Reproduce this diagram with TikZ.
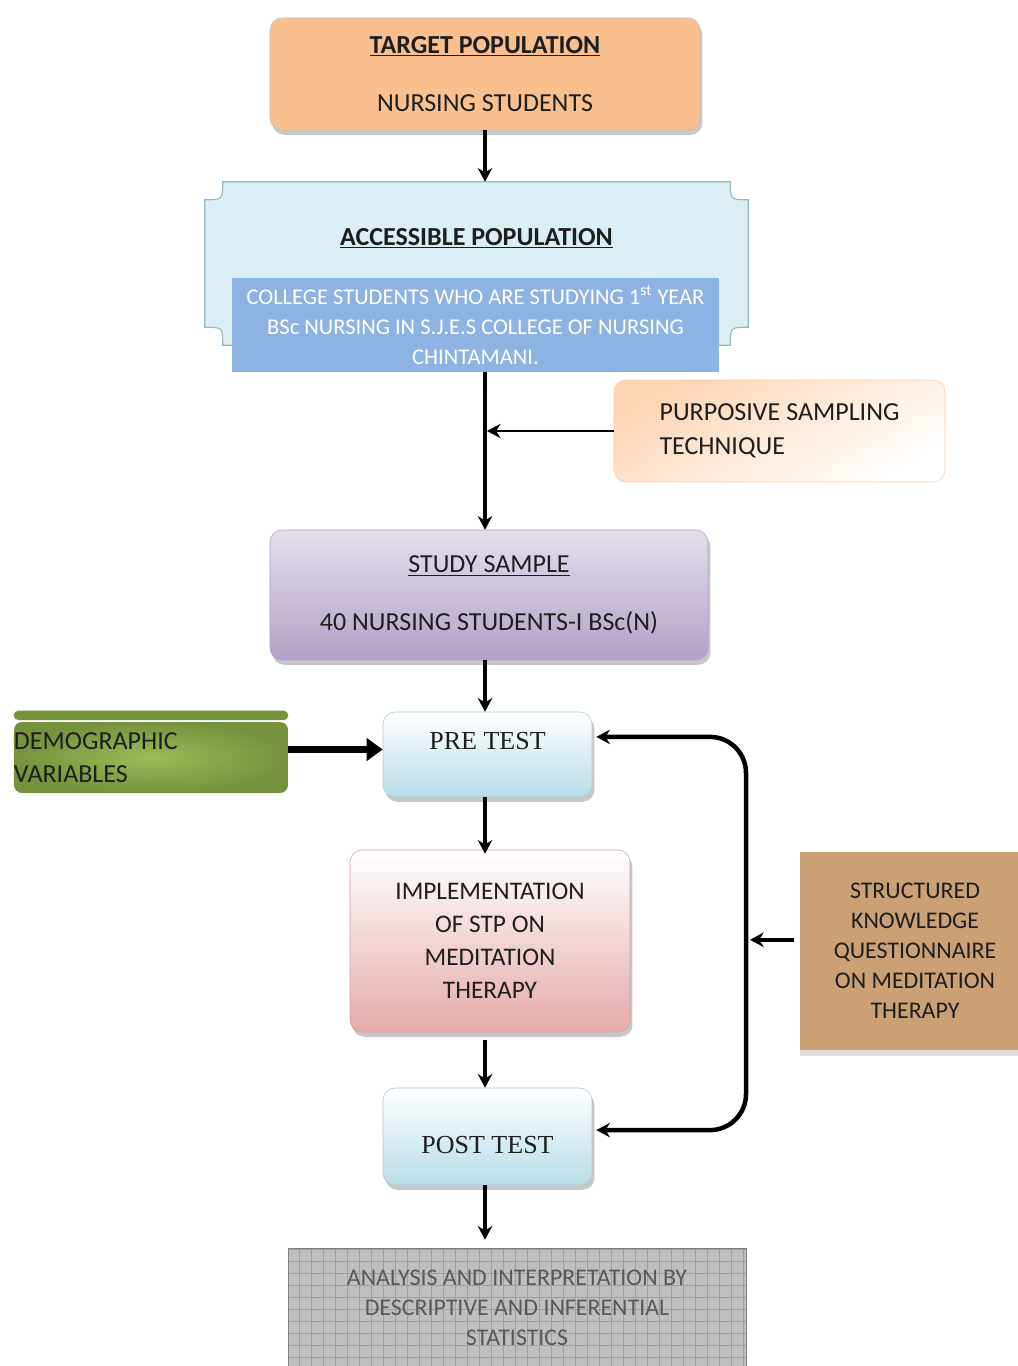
\documentclass[tikz,border=0pt]{standalone}
\usepackage{fontspec}
\setmainfont{Carlito}
\newfontfamily\timesfont{Liberation Serif}
\usetikzlibrary{positioning,arrows.meta,shadows,calc,backgrounds}
\definecolor{peach}{RGB}{250,191,143}
\definecolor{paleblue}{RGB}{219,238,243}
\definecolor{plaqueln}{RGB}{150,180,195}
\definecolor{midblue}{RGB}{141,179,226}
\definecolor{peachlt}{RGB}{252,213,180}
\definecolor{lilac}{RGB}{229,223,236}
\definecolor{lilacdk}{RGB}{178,161,199}
\definecolor{skyblue}{RGB}{183,221,232}
\definecolor{rosy}{RGB}{229,170,170}
\definecolor{olive}{RGB}{118,146,60}
\definecolor{olivelt}{RGB}{155,187,89}
\definecolor{tanbox}{RGB}{203,160,116}
\definecolor{gridgray}{RGB}{191,191,191}
\definecolor{ink}{RGB}{30,30,30}
\begin{document}
\begin{tikzpicture}[
  x=0.25mm,y=-0.25mm,
  >={Stealth[length=3.4mm,width=3.6mm]},
  box/.style={rounded corners=3mm,align=center,inner sep=0pt,text=ink},
  shade/.style={drop shadow={shadow xshift=0.6mm,shadow yshift=-1.2mm,fill=gray!55,opacity=0.8}},
  flow/.style={->,line width=3pt},
  thin/.style={->,line width=1pt},
  fat/.style={->,line width=4.5pt,>={Triangle[length=4mm,width=5.5mm]}},
  loopline/.style={<->,line width=3.2pt,rounded corners=9mm},
]
\useasboundingbox (0,0) rectangle (1018,1366);
% target population
\node[box,shade,fill=peach,draw=gray!50,minimum width=107.5mm,minimum height=28mm,
  font={\fontsize{18.5pt}{41.8pt}\selectfont}] (target) at (485,74)
  {\underline{\textbf{TARGET POPULATION}}\\NURSING STUDENTS};
% accessible population
\node[align=center,minimum width=135.75mm,minimum height=40.75mm,text height=4.5mm,text depth=13.75mm,
  font={\fontsize{18.5pt}{22pt}\selectfont\bfseries},text=ink] (acc) at (476.5,263.5)
  {\underline{ACCESSIBLE POPULATION}};
\begin{scope}[on background layer]
\path[fill=paleblue,draw=plaqueln,line width=0.8pt]
  ([yshift=-4.5mm]acc.north west) .. controls ([xshift=4.5mm,yshift=-4.5mm]acc.north west) .. ([xshift=4.5mm]acc.north west)
  -- ([xshift=-4.5mm]acc.north east) .. controls ([xshift=-4.5mm,yshift=-4.5mm]acc.north east) .. ([yshift=-4.5mm]acc.north east)
  -- ([yshift=4.5mm]acc.south east) .. controls ([xshift=-4.5mm,yshift=4.5mm]acc.south east) .. ([xshift=-4.5mm]acc.south east)
  -- ([xshift=4.5mm]acc.south west) .. controls ([xshift=4.5mm,yshift=4.5mm]acc.south west) .. ([yshift=4.5mm]acc.south west)
  -- cycle;
\end{scope}
\node[fill=midblue,align=center,inner sep=0pt,minimum width=121.75mm,minimum height=23.5mm,text=white,
  font={\fontsize{16pt}{21.3pt}\selectfont}] (college) at (475.5,325)
  {COLLEGE STUDENTS WHO ARE STUDYING 1\textsuperscript{st} YEAR\\BSc NURSING IN S.J.E.S COLLEGE OF NURSING\\CHINTAMANI.};
% sampling
\node[box,top color=peachlt,bottom color=white,shading angle=30,draw=peach!80,minimum width=82.75mm,minimum height=25.5mm,
  align=left,font={\fontsize{18.5pt}{24.1pt}\selectfont}] (purp) at (779.5,431)
  {PURPOSIVE SAMPLING\\TECHNIQUE};
\node[box,shade,top color=lilac,bottom color=lilacdk,draw=lilacdk,minimum width=109.5mm,minimum height=32.5mm,
  font={\fontsize{18.5pt}{41.1pt}\selectfont}] (sample) at (489,595)
  {\underline{STUDY SAMPLE}\\40 NURSING STUDENTS-I BSc(N)};
% tests and programme
\node[box,shade,top color=white,bottom color=skyblue,draw=skyblue!80!gray,minimum width=52.25mm,minimum height=21.25mm,
  text height=4.5mm,text depth=7.25mm,font={\timesfont\fontsize{18.5pt}{22pt}\selectfont}] (pre) at (487.5,754.5) {PRE TEST};
\node[box,rounded corners=2mm,inner color=olivelt,outer color=olive,minimum width=68.5mm,minimum height=17.75mm,
  text width=68.5mm,align=left,font={\fontsize{18.5pt}{23.4pt}\selectfont}] (demo) at (151,757.5)
  {DEMOGRAPHIC\\VARIABLES};
\fill[olive,rounded corners=1.2mm] ([yshift=0.4mm]demo.north west) rectangle ([yshift=2.8mm]demo.north east);
\node[box,shade,top color=white,bottom color=rosy,draw=rosy!80!gray,minimum width=70mm,minimum height=45.5mm,
  font={\fontsize{18pt}{23.4pt}\selectfont}] (impl) at (490,941)
  {IMPLEMENTATION\\OF STP ON\\MEDITATION\\THERAPY};
\node[box,shade,top color=white,bottom color=skyblue,draw=skyblue!80!gray,minimum width=52.25mm,minimum height=24.25mm,
  text height=9mm,text depth=0.5mm,font={\timesfont\fontsize{18.5pt}{22pt}\selectfont}] (post) at (487.5,1136.5) {POST TEST};
\node[box,rounded corners=0pt,drop shadow={shadow xshift=0mm,shadow yshift=-1.5mm,fill=gray!50},fill=tanbox,
  minimum width=57.5mm,minimum height=49.5mm,font={\fontsize{17pt}{21.3pt}\selectfont}] (tool) at (915,951)
  {STRUCTURED\\KNOWLEDGE\\QUESTIONNAIRE\\ON MEDITATION\\THERAPY};
% analysis
\node[box,rounded corners=0pt,fill=gridgray,draw=gray,minimum width=114.5mm,minimum height=30mm,text=black!65,
  path picture={\draw[gray!75,line width=0.5pt,xstep=3mm,ystep=3mm] (path picture bounding box.south west) grid (path picture bounding box.north east);},
  font={\fontsize{17pt}{21.3pt}\selectfont}] (stats) at (517,1308)
  {ANALYSIS AND INTERPRETATION BY\\DESCRIPTIVE AND INFERENTIAL\\STATISTICS};
% connectors
\coordinate (loopx) at (746,0);
\draw[flow] (target.south) -- (target.south |- acc.north);
\draw[line width=3pt] (college.south -| target) -- ([yshift=1mm]target |- sample.north);
\draw[flow] ([yshift=-9mm]college.south -| target) -- (target |- sample.north);
\draw[thin] (purp.west) -- ([xshift=0.5mm]purp.west -| target);
\draw[flow] (sample.south -| target) -- (target |- pre.north);
\draw[fat] ([yshift=2mm]demo.east) -- ([yshift=2mm]demo.east -| pre.west);
\draw[flow] (pre.south -| target) -- ([yshift=-1mm]target |- impl.north);
\draw[flow] ([yshift=-2mm]impl.south -| target) -- (target |- post.north);
\draw[flow] (post.south -| target) -- ([yshift=2mm]target |- stats.north);
\draw[loopline] ([xshift=1mm,yshift=4.4mm]pre.east) -- ([yshift=4.4mm]pre.east -| loopx)
  -- ([yshift=1.6mm]post.east -| loopx) -- ([xshift=1mm,yshift=1.6mm]post.east);
\draw[flow] ([xshift=-1.5mm,yshift=2.8mm]tool.west) -- ([xshift=1mm,yshift=2.8mm]tool.west -| loopx);
\end{tikzpicture}
\end{document}
